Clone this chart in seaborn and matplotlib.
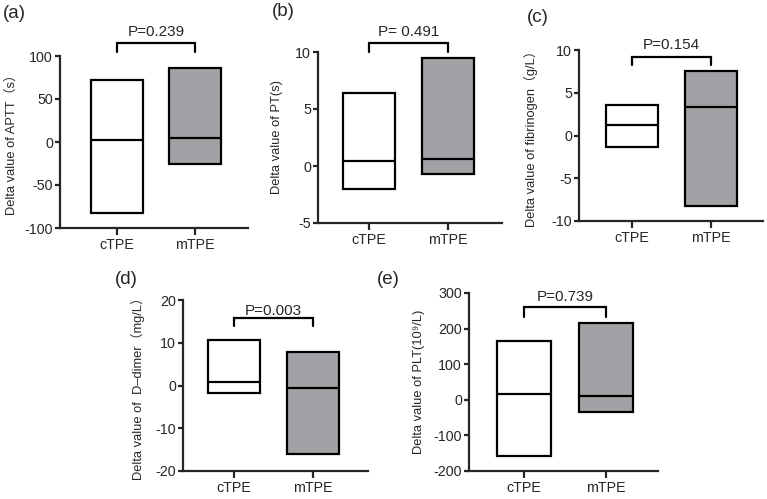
import numpy as np
import pandas as pd
import matplotlib
matplotlib.use("Agg")
import matplotlib.pyplot as plt
import seaborn as sns

sns.set_theme(style="ticks")
plt.rcParams['font.family'] = ['Liberation Sans', 'Noto Sans CJK SC', 'DejaVu Sans']
plt.rcParams['axes.unicode_minus'] = False

# groups shared by every panel
groups = ["cTPE", "mTPE"]

# min / median / max
aptt_min = [-83, -25]
aptt_med = [2, 5]
aptt_max = [72, 86]

pt_min = [-2.0, -0.7]
pt_med = [0.4, 0.6]
pt_max = [6.4, 9.5]

fib_min = [-1.4, -8.2]
fib_med = [1.2, 3.3]
fib_max = [3.6, 7.5]

dd_min = [-1.7, -16.0]
dd_med = [0.9, -0.5]
dd_max = [10.6, 7.8]

plt_min = [-158, -35]
plt_med = [15, 12]
plt_max = [165, 217]

p_values = ["P=0.239", "P= 0.491", "P=0.154", "P=0.003", "P=0.739"]
ylabels = ["Delta value of APTT（s）",
           "Delta value of PT(s)",
           "Delta value of fibrinogen（g/L）",
           "Delta value of  D\u2013dimer（mg/L）",
           "Delta value of PLT(10\u2079/L)"]
panel_tags = ["(a)", "(b)", "(c)", "(d)", "(e)"]
yticks = [[-100, -50, 0, 50, 100],
          [-5, 0, 5, 10],
          [-10, -5, 0, 5, 10],
          [-20, -10, 0, 10, 20],
          [-200, -100, 0, 100, 200, 300]]

panels = [(aptt_min, aptt_med, aptt_max),
          (pt_min, pt_med, pt_max),
          (fib_min, fib_med, fib_max),
          (dd_min, dd_med, dd_max),
          (plt_min, plt_med, plt_max)]

# layout (pixel-measured)
W, H = 767, 499
axes_px = [(60, 248, 56, 228), (318, 502, 52, 223), (579, 763, 50, 221),
           (183, 368, 300, 471), (469, 658, 293, 471)]
cat_px = [(117, 195), (369, 448), (632, 711), (234, 313), (524, 606)]
bracket = [(104.7, 115, 128), (10.0, 10.8, 11.75), (8.25, 9.18, 10.6),
           (13.9, 15.8, 17.4), (232, 261, 289)]
label_x = [-0.223, -0.190, -0.223, -0.205, -0.233]
tag_px = [(14, 13), (283, 12), (538, 17), (126, 280), (388, 280)]

fill_colors = ["white", "#a2a2a6"]
bw = 0.66
lw = 1.6

fig = plt.figure(figsize=(W / 100, H / 100), dpi=100)

for i, (mins, meds, maxs) in enumerate(panels):
    l, r, t, b = axes_px[i]
    ax = fig.add_axes([l / W, 1 - b / H, (r - l) / W, (b - t) / H])
    df = pd.DataFrame({"group": groups,
                       "height": np.array(maxs) - np.array(mins),
                       "bottom": mins})
    sns.barplot(data=df, x="group", y="height", bottom=df["bottom"].values,
                color="white", edgecolor="black", linewidth=lw, width=bw,
                ax=ax, order=groups)
    for patch, c in zip(ax.patches, fill_colors):
        patch.set_facecolor(c)
    xs = np.arange(len(groups))
    ax.hlines(meds, xs - bw / 2, xs + bw / 2, color="black", linewidth=lw)

    c0, c1 = cat_px[i]
    unit = c1 - c0
    ax.set_xlim((l - c0) / unit, (r - c0) / unit)
    ax.set_ylim(yticks[i][0], yticks[i][-1])
    ax.set_yticks(yticks[i])
    ax.set_xlabel("")
    ax.set_ylabel(ylabels[i], fontsize=9.3)
    ax.yaxis.set_label_coords(label_x[i], 0.5)
    sns.despine(ax=ax)
    for s in ["left", "bottom"]:
        ax.spines[s].set_linewidth(lw)
    ax.tick_params(axis="y", length=3.5, width=lw, labelsize=10.3, pad=1.5)
    ax.tick_params(axis="x", length=5, width=lw, labelsize=10.3, pad=2)

    lo, hi, ty = bracket[i]
    ax.plot([0, 0, 1, 1], [lo, hi, hi, lo], color="black", lw=lw,
            clip_on=False, solid_joinstyle="miter")
    ax.text(0.5, ty, p_values[i], ha="center", va="center", fontsize=11,
            clip_on=False)

    tx, tyy = tag_px[i]
    fig.text(tx / W, 1 - tyy / H, panel_tags[i], ha="center", va="center",
             fontsize=13.5)

fig.savefig("out.png", dpi=100)
